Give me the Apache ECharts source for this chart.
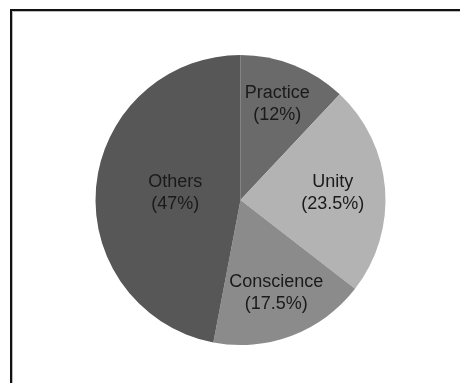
<!DOCTYPE html>
<html>
<head>
<meta charset="utf-8">
<script src="https://cdn.jsdelivr.net/npm/echarts@6/dist/echarts.min.js"></script>
<style>
  html, body { margin: 0; padding: 0; background: #fff; width: 460px; height: 383px; overflow: hidden; }
  #frame { position: absolute; left: 10px; top: 9px; width: 470px; height: 400px;
           border-left: 2px solid #111; border-top: 2px solid #111; box-sizing: border-box; }
  #frame2 { position: absolute; left: 12px; top: 11px; width: 470px; height: 400px;
           border-left: 1px solid #bbb; border-top: 1px solid #bbb; box-sizing: border-box; }
  #chart { position: absolute; left: 0; top: 0; width: 460px; height: 383px; }
</style>
</head>
<body>
<div id="frame"></div>
<div id="frame2"></div>
<div id="chart"></div>
<script>
const categories = ['Practice', 'Unity', 'Conscience', 'Others'];
const values = [12, 23.5, 17.5, 47];
const colors = ['#6a6a6a', '#b3b3b3', '#8b8b8b', '#575757'];
const labelShift = [[9, -26], [17, -1], [9, 22], [10, 0]];

const chart = echarts.init(document.getElementById('chart'), null, { renderer: 'canvas' });
chart.setOption({
  animation: false,
  series: [{
    type: 'pie',
    center: [240.5, 200],
    radius: [0, 145],
    startAngle: 90,
    clockwise: true,
    avoidLabelOverlap: false,
    itemStyle: { borderWidth: 0 },
    label: {
      show: true,
      position: 'inside',
      formatter: p => p.name + '\n(' + p.value + '%)',
      fontFamily: 'Liberation Sans, Arial, sans-serif',
      fontSize: 18,
      lineHeight: 22,
      color: '#1a1a1a'
    },
    labelLayout: p => ({ dx: labelShift[p.dataIndex][0], dy: labelShift[p.dataIndex][1] }),
    labelLine: { show: false },
    emphasis: { disabled: true },
    data: categories.map((c, i) => ({ name: c, value: values[i], itemStyle: { color: colors[i] } }))
  }]
});
</script>
</body>
</html>
